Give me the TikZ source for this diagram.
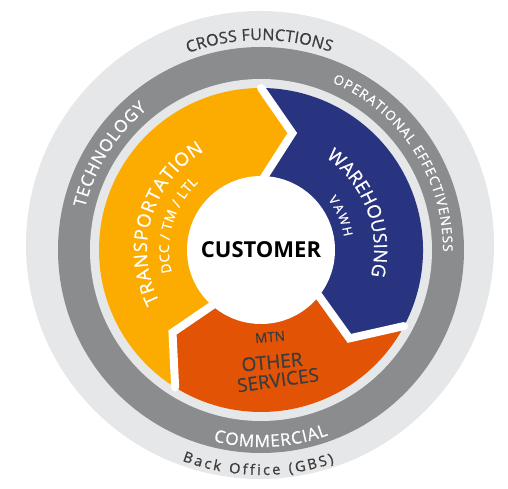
\documentclass[tikz,border=0pt]{standalone}
\usepackage{fontspec}
\setmainfont{Open Sans}
\newfontfamily\ringfont{Open Sans}[FakeBold=0.7]
\usetikzlibrary{decorations.text}

\definecolor{ringgray}{RGB}{230,231,232}
\definecolor{bandgray}{RGB}{139,140,142}
\definecolor{transorange}{RGB}{252,172,0}
\definecolor{warehblue}{RGB}{40,52,128}
\definecolor{servred}{RGB}{227,83,5}
\definecolor{labelgray}{RGB}{60,60,60}

\tikzset{
  gapline/.style={draw=white, line width=8pt, line cap=round, line join=miter},
  custcircle/.style={circle, fill=white, minimum size=148pt, inner sep=0pt,
    font=\fontsize{22}{22}\selectfont\bfseries},
  servtext/.style={text=labelgray, inner sep=0pt},
}

\begin{document}
\begin{tikzpicture}[x=1pt, y=1pt]
\def\rdisk{234pt}
\def\rband{203pt}
\def\rbandin{171pt}
\def\rring{162pt}
\def\rin{72pt}

\useasboundingbox (-261,-239) rectangle (247,250);

\fill[ringgray] (-1,5) circle (\rdisk);
\fill[bandgray] (0,0) circle (\rband);
\fill[ringgray] (0,0) circle (\rbandin);

\coordinate (ai) at (88:\rin);
\coordinate (at) at (75:121pt);
\coordinate (ao) at (90:\rring);
\coordinate (bi) at (-38:\rin);
\coordinate (bt) at (-45:125pt);
\coordinate (bo) at (-28:\rring);
\coordinate (ci) at (229:\rin);
\coordinate (ct) at (223:121pt);
\coordinate (co) at (238:\rring);

\fill[transorange] (0,0) -- (ai) -- (at) -- (ao) arc[start angle=90, end angle=238, radius=\rring] -- (ct) -- (ci) -- cycle;
\fill[warehblue] (0,0) -- (bi) -- (bt) -- (bo) arc[start angle=-28, end angle=90, radius=\rring] -- (at) -- (ai) -- cycle;
\fill[servred] (0,0) -- (ci) -- (ct) -- (co) arc[start angle=238, end angle=332, radius=\rring] -- (bt) -- (bi) -- cycle;

\draw[gapline] (ai) -- (at) -- (ao);
\draw[gapline] (bi) -- (bt) -- (bo);
\draw[gapline] (ci) -- (ct) -- (co);

\node[custcircle] (cust) at (0,0) {CUSTOMER};

\path[decorate, decoration={text along path, text align={fit to path},
  text={|\color{labelgray}\ringfont\fontsize{16}{16}\selectfont|CROSS FUNCTIONS}}]
  (110.3:210pt) arc[start angle=110.3, end angle=70.6, radius=210pt];
\path[decorate, decoration={text along path, text align={fit to path},
  text={|\color{labelgray}\ringfont\fontsize{14.5}{14.5}\selectfont|Back Office (GBS)}}]
  (249.5:225pt) arc[start angle=249.5, end angle=289, radius=225pt];
\path[decorate, decoration={text along path, text align={fit to path},
  text={|\color{white}\ringfont\fontsize{17}{17}\selectfont|COMMERCIAL}}]
  (256:197pt) arc[start angle=256, end angle=290, radius=197pt];
\path[decorate, decoration={text along path, text align={fit to path},
  text={|\color{white}\ringfont\fontsize{17}{17}\selectfont|TECHNOLOGY}}]
  (166.5:181pt) arc[start angle=166.5, end angle=129, radius=181pt];
\path[decorate, decoration={text along path, text align={fit to path},
  text={|\color{white}\ringfont\fontsize{13.5}{13.5}\selectfont|OPERATIONAL EFFECTIVENESS}}]
  (67:182pt) arc[start angle=67, end angle=-0.5, radius=182pt];

\path[decorate, decoration={text along path, text align={fit to path},
  text={|\color{white}\ringfont\fontsize{18.5}{18.5}\selectfont|TRANSPORTATION}}]
  (207:114pt) arc[start angle=207, end angle=120, radius=114pt];
\path[decorate, decoration={text along path, text align={fit to path},
  text={|\color{white}\ringfont\fontsize{13.5}{13.5}\selectfont|DCC / TM / LTL}}]
  (194:92pt) arc[start angle=194, end angle=133, radius=92pt];
\path[decorate, decoration={text along path, text align={fit to path},
  text={|\color{white}\ringfont\fontsize{18.5}{18.5}\selectfont|WAREHOUSING}}]
  (55:113pt) arc[start angle=55, end angle=-13, radius=113pt];
\path[decorate, decoration={text along path, text align={fit to path},
  text={|\color{white}\ringfont\fontsize{12.5}{12.5}\selectfont|VAWH}}]
  (37:84pt) arc[start angle=37, end angle=9, radius=84pt];

\node[servtext, font=\ringfont\fontsize{13.5}{13.5}\selectfont, rotate=5] (mtn) at (9,-87) {MTN};
\node[servtext, font=\ringfont\fontsize{19}{19}\selectfont, rotate=5.5] (other) at (11,-112) {OTHER};
\node[servtext, font=\ringfont\fontsize{19}{19}\selectfont, rotate=8] (serv) at (17,-130) {SERVICES};

\end{tikzpicture}
\end{document}
